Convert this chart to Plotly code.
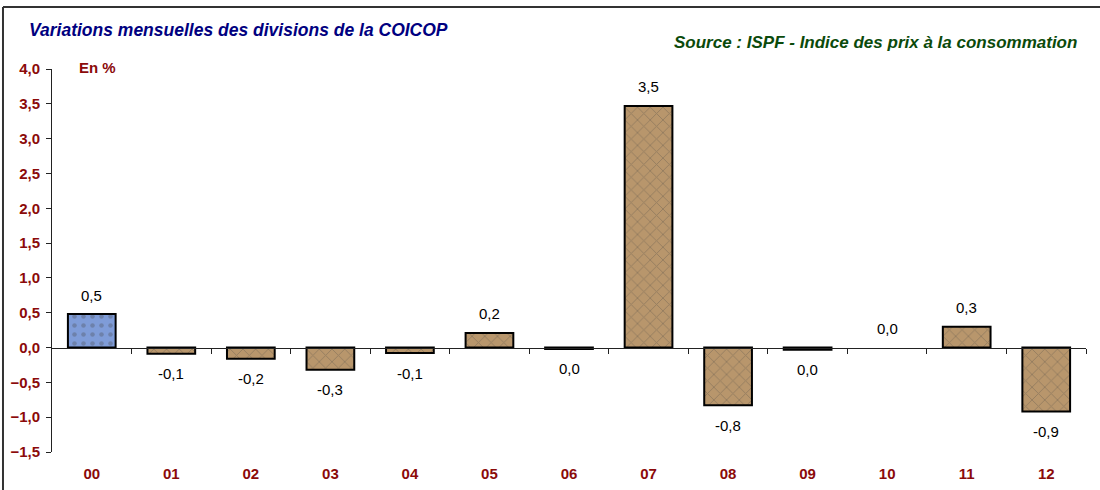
import plotly.graph_objects as go

# ---- data ----
categories = ["00", "01", "02", "03", "04", "05", "06", "07", "08", "09", "10", "11", "12"]
values = [0.48, -0.09, -0.16, -0.32, -0.08, 0.21, -0.02, 3.47, -0.83, -0.03, 0.0, 0.30, -0.92]
labels = ["0,5", "-0,1", "-0,2", "-0,3", "-0,1", "0,2", "0,0", "3,5", "-0,8", "0,0", "0,0", "0,3", "-0,9"]
y_ticks = [4.0, 3.5, 3.0, 2.5, 2.0, 1.5, 1.0, 0.5, 0.0, -0.5, -1.0, -1.5]
y_range = [-1.5, 4.0]

title_text = "Variations mensuelles des divisions de la COICOP"
source_text = "Source : ISPF - Indice des prix à la consommation"
unit_text = "En %"

FONT = "Liberation Sans, Arial, sans-serif"
DARKRED = "#8B0A0A"

positions = list(range(len(categories)))
boundaries = [p + 0.5 for p in positions]

bar_colors = ["#7F9CD8"] + ["#B8966C"] * (len(categories) - 1)
fg_colors = ["#2B3F7A"] + ["#5E4226"] * (len(categories) - 1)
shapes_pat = ["."] + ["x"] * (len(categories) - 1)
line_widths = [0 if v == 0 else 2 for v in values]

fig = go.Figure()
fig.add_trace(go.Bar(
    x=positions, y=values, width=0.6,
    marker=dict(
        color=bar_colors,
        line=dict(color="black", width=line_widths),
        pattern=dict(shape=shapes_pat, fgcolor=fg_colors, bgcolor=bar_colors,
                     size=9, solidity=0.2, fgopacity=0.3),
    ),
    hoverinfo="skip", showlegend=False,
))
# invisible trace to carry the zero-line axis
fig.add_trace(go.Scatter(
    x=positions, y=values, xaxis="x2", yaxis="y", mode="markers",
    marker=dict(opacity=0), hoverinfo="skip", showlegend=False,
))

for p, v, lab in zip(positions, values, labels):
    fig.add_annotation(
        x=p, y=v, xref="x", yref="y", text=lab, showarrow=False,
        yshift=19 if v >= 0 else -20, yanchor="middle",
        font=dict(family=FONT, size=15, color="black"),
    )

zero_pos = (0 - y_range[0]) / (y_range[1] - y_range[0])

fig.update_layout(
    width=1100, height=490,
    margin=dict(l=52, r=14, t=69, b=38, autoexpand=False),
    paper_bgcolor="white", plot_bgcolor="white",
    separators=", ",
    xaxis=dict(
        range=[-0.5, len(categories) - 0.5], automargin=False,
        tickmode="array", tickvals=positions, ticktext=categories,
        showline=False, showgrid=False, zeroline=False, ticks="",
        ticklabelstandoff=11,
        tickfont=dict(family=FONT, size=15, color=DARKRED, weight="bold"),
    ),
    xaxis2=dict(
        overlaying="x", anchor="free", position=zero_pos, side="bottom",
        range=[-0.5, len(categories) - 0.5], automargin=False,
        tickmode="array", tickvals=boundaries, showticklabels=False,
        ticks="outside", ticklen=5, tickcolor="#222", tickwidth=1,
        showline=True, linecolor="#222", linewidth=1,
        showgrid=False, zeroline=False,
    ),
    yaxis=dict(
        range=y_range, tickmode="array", tickvals=y_ticks, tickformat=".1f",
        automargin=False, ticklabelstandoff=3,
        showline=True, linecolor="#222", linewidth=1,
        ticks="outside", ticklen=5, tickcolor="#222",
        showgrid=False, zeroline=False,
        tickfont=dict(family=FONT, size=15, color=DARKRED, weight="bold"),
    ),
    shapes=[
        dict(type="line", xref="paper", yref="paper", x0=-0.0474, x1=1.02, y0=1.162, y1=1.162,
             line=dict(color="#333", width=2)),
        dict(type="line", xref="paper", yref="paper", x0=-0.0474, x1=-0.0474, y0=1.162, y1=-0.2,
             line=dict(color="#333", width=2)),
    ],
)

fig.add_annotation(
    xref="paper", yref="paper", x=-0.0242, y=1.102, xanchor="left", yanchor="middle",
    text=title_text, showarrow=False,
    font=dict(family=FONT, size=17.5, color="#000080", style="italic", weight="bold"),
)
fig.add_annotation(
    xref="paper", yref="paper", x=0.993, y=1.069, xanchor="right", yanchor="middle",
    text=source_text, showarrow=False,
    font=dict(family=FONT, size=17, color="#0B4A0B", style="italic", weight="bold"),
)
fig.add_annotation(
    xref="paper", yref="paper", x=0.0242, y=1.005, xanchor="left", yanchor="middle",
    text=unit_text, showarrow=False,
    font=dict(family=FONT, size=15, color=DARKRED, weight="bold"),
)

fig.write_html("out.html", config={"displayModeBar": False},
               post_script="document.body.style.margin='0';")
